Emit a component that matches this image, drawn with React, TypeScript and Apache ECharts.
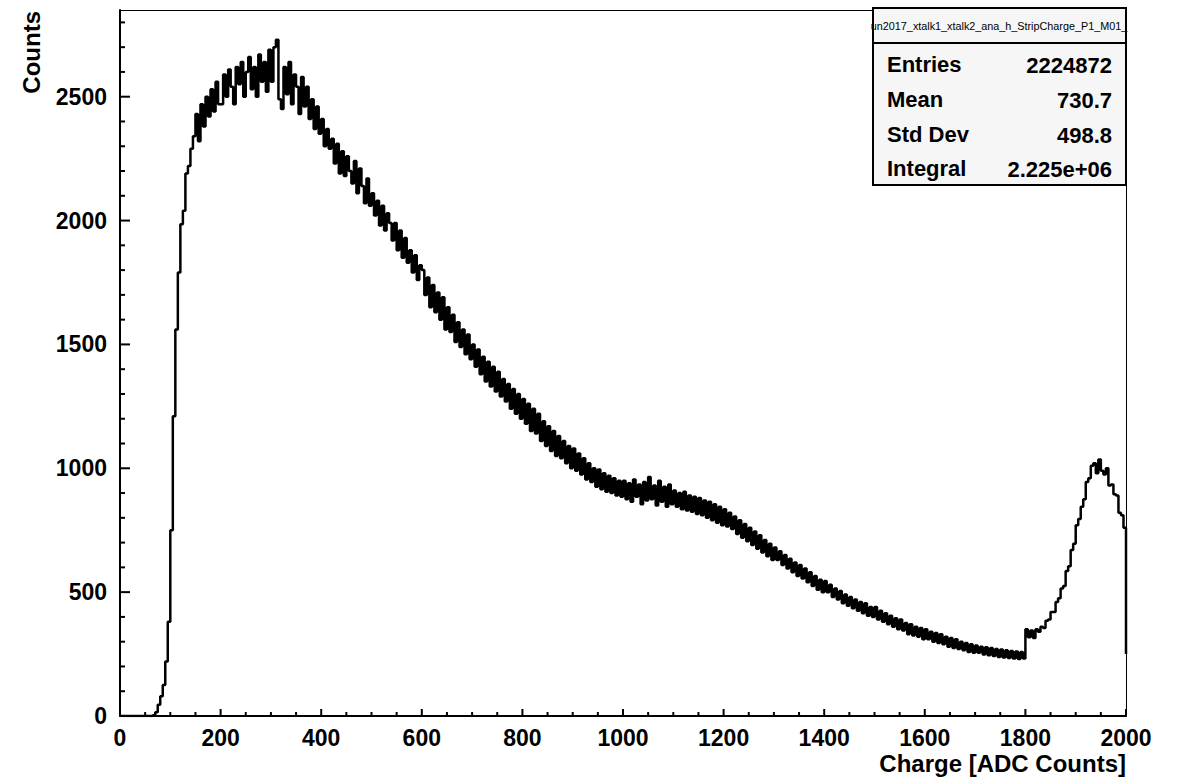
import React, { useEffect, useRef } from "react";
import * as echarts from "echarts";

// Histogram: bin width 5 ADC, bins from 0 to 2000 (400 bins), counts per bin
const binWidth = 5;
const xMin = 0;
const xMax = 2000;
const counts: number[] = [
  // 0-95
  0, 0, 0, 0, 0, 0, 0, 0, 0, 0, 0, 0, 0, 3, 15, 45, 80, 125, 220, 380,
  // 100-195
  750, 1210, 1560, 1790, 1985, 2040, 2190, 2220, 2290, 2340, 2430, 2320, 2470, 2380, 2500, 2420, 2530, 2440, 2560, 2470,
  // 200-295
  2470, 2590, 2500, 2610, 2540, 2470, 2620, 2550, 2640, 2500, 2600, 2660, 2530, 2620, 2500, 2670, 2560, 2640, 2520, 2690,
  // 300-395
  2560, 2700, 2730, 2490, 2450, 2620, 2510, 2640, 2470, 2590, 2540, 2430, 2580, 2460, 2540, 2410, 2490, 2370, 2460, 2350,
  // 400-495
  2410, 2300, 2370, 2290, 2330, 2230, 2310, 2190, 2280, 2180, 2260, 2200, 2150, 2240, 2110, 2210, 2140, 2070, 2170, 2060,
  // 500-595
  2110, 2020, 2080, 1980, 2060, 1960, 2030, 1990, 1920, 1990, 1880, 1960, 1850, 1930, 1830, 1880, 1790, 1860, 1760, 1820,
  // 600-695
  1800, 1700, 1770, 1650, 1740, 1630, 1710, 1600, 1690, 1560, 1650, 1550, 1620, 1510, 1590, 1490, 1560, 1460, 1540, 1440,
  // 700-795
  1500, 1410, 1480, 1380, 1450, 1350, 1430, 1330, 1410, 1310, 1390, 1290, 1360, 1270, 1340, 1240, 1320, 1220, 1300, 1200,
  // 800-895
  1280, 1180, 1260, 1150, 1240, 1140, 1220, 1110, 1190, 1090, 1170, 1070, 1150, 1050, 1130, 1040, 1110, 1020, 1090, 1000,
  // 900-995
  1080, 990, 1060, 975, 1040, 955, 1020, 945, 1000, 925, 995, 915, 980, 905, 970, 900, 960, 890, 950, 885,
  // 1000-1095
  950, 875, 940, 865, 955, 885, 935, 855, 945, 870, 965, 875, 930, 850, 950, 865, 925, 845, 935, 855,
  // 1100-1195
  910, 845, 900, 835, 905, 830, 890, 825, 885, 815, 880, 810, 870, 800, 865, 790, 855, 780, 845, 770,
  // 1200-1295
  835, 765, 820, 755, 805, 735, 790, 720, 775, 705, 760, 690, 745, 675, 730, 660, 710, 645, 695, 630,
  // 1300-1395
  680, 630, 665, 610, 650, 595, 635, 580, 620, 565, 610, 555, 595, 540, 580, 525, 565, 510, 550, 500,
  // 1400-1495
  545, 500, 530, 480, 515, 470, 505, 455, 490, 445, 480, 435, 470, 425, 460, 415, 455, 405, 440, 400,
  // 1500-1595
  440, 390, 425, 380, 415, 370, 405, 360, 395, 350, 390, 345, 375, 330, 370, 325, 360, 320, 355, 310,
  // 1600-1695
  350, 310, 340, 300, 335, 295, 330, 290, 320, 280, 315, 275, 310, 270, 300, 265, 295, 258, 290, 255,
  // 1700-1795
  285, 255, 280, 248, 278, 245, 275, 242, 270, 238, 268, 236, 265, 234, 262, 232, 260, 230, 258, 232,
  // 1800-1895
  350, 318, 345, 315, 350, 340, 360, 355, 385, 390, 420, 420, 460, 475, 515, 525, 585, 605, 670, 695,
  // 1900-1995
  770, 795, 845, 875, 945, 960, 1010, 1020, 980, 1035, 990, 975, 1000, 930, 935, 895, 890, 820, 810, 760,
];
const lastEdgeCount = 250;

// Axis ticks
const xMajorTicks = [0, 200, 400, 600, 800, 1000, 1200, 1400, 1600, 1800, 2000];
const xMinorPerMajor = 4;
const yMajorTicks = [0, 500, 1000, 1500, 2000, 2500];
const yMinorPerMajor = 5;
const yMax = 2850;

const statsTitle = "un2017_xtalk1_xtalk2_ana_h_StripCharge_P1_M01_";
const statsLabels = ["Entries", "Mean", "Std Dev", "Integral"];
const statsValues = ["2224872", "730.7", "498.8", "2.225e+06"];

const xAxisTitle = "Charge [ADC Counts]";
const yAxisTitle = "Counts";

const FONT = "Liberation Sans, Arial, Helvetica, sans-serif";

export default function App() {
  const ref = useRef<HTMLDivElement>(null);

  useEffect(() => {
    if (!ref.current) return;
    const chart = echarts.init(ref.current, undefined, { renderer: "svg" });

    const data: number[][] = counts.map((c, i) => [xMin + i * binWidth, c]);
    data.push([xMax, lastEdgeCount]);

    // tick data: [value, length in px]
    const xTickData: number[][] = [];
    const xStep = xMajorTicks[1] - xMajorTicks[0];
    xMajorTicks.forEach((t, i) => {
      xTickData.push([t, 7]);
      if (i < xMajorTicks.length - 1) {
        for (let k = 1; k < xMinorPerMajor; k++) xTickData.push([t + (k * xStep) / xMinorPerMajor, 4]);
      }
    });
    const yTickData: number[][] = [];
    const yStep = yMajorTicks[1] - yMajorTicks[0];
    yMajorTicks.forEach((t) => {
      yTickData.push([t, 10]);
      for (let k = 1; k < yMinorPerMajor; k++) {
        const v = t + (k * yStep) / yMinorPerMajor;
        if (v < yMax) yTickData.push([v, 5]);
      }
    });

    const rowY = [64, 99, 134, 168];
    const statsGraphics: any[] = [
      {
        type: "rect",
        z: 100,
        shape: { x: 873, y: 8, width: 253, height: 177 },
        style: { fill: "#f6f6f6", stroke: "#000", lineWidth: 2 },
      },
      {
        type: "line",
        z: 101,
        shape: { x1: 873, y1: 43, x2: 1126, y2: 43 },
        style: { stroke: "#000", lineWidth: 2 },
      },
      {
        type: "text",
        z: 101,
        x: 999,
        y: 26,
        style: {
          text: statsTitle,
          font: `10.8px ${FONT}`,
          fill: "#000",
          align: "center",
          verticalAlign: "middle",
        },
      },
    ];
    statsLabels.forEach((l, i) => {
      statsGraphics.push({
        type: "text",
        z: 101,
        x: 887,
        y: rowY[i],
        style: {
          text: l,
          font: `bold 22px ${FONT}`,
          fill: "#000",
          align: "left",
          verticalAlign: "middle",
        },
      });
      statsGraphics.push({
        type: "text",
        z: 101,
        x: 1112,
        y: rowY[i] + 1,
        style: {
          text: statsValues[i],
          font: `bold 22px ${FONT}`,
          fill: "#000",
          align: "right",
          verticalAlign: "middle",
        },
      });
    });

    const labelStyle = {
      color: "#000",
      fontFamily: FONT,
      fontWeight: "bold",
      fontSize: 23,
    };

    const option: any = {
      animation: false,
      grid: {
        left: 120,
        right: 52,
        top: 10,
        bottom: 62,
      },
      xAxis: [
        {
          type: "value",
          min: xMin,
          max: xMax,
          interval: 200,
          axisLine: { show: true, onZero: false, lineStyle: { color: "#000", width: 2 } },
          axisTick: { show: false },
          splitLine: { show: false },
          axisLabel: { ...labelStyle, margin: 10, formatter: (v: number) => String(v) },
        },
        {
          type: "value",
          position: "top",
          min: xMin,
          max: xMax,
          axisLine: { show: true, onZero: false, lineStyle: { color: "#000", width: 1 } },
          axisTick: { show: false },
          axisLabel: { show: false },
          splitLine: { show: false },
        },
      ],
      yAxis: [
        {
          type: "value",
          min: 0,
          max: yMax,
          interval: 500,
          axisLine: { show: true, onZero: false, lineStyle: { color: "#000", width: 2 } },
          axisTick: { show: false },
          splitLine: { show: false },
          axisLabel: {
            ...labelStyle,
            margin: 13,
            showMaxLabel: false,
            formatter: (v: number) => String(v),
          },
        },
        {
          type: "value",
          position: "right",
          min: 0,
          max: yMax,
          axisLine: { show: true, onZero: false, lineStyle: { color: "#000", width: 1 } },
          axisTick: { show: false },
          axisLabel: { show: false },
          splitLine: { show: false },
        },
      ],
      series: [
        {
          type: "line",
          step: "end",
          xAxisIndex: 0,
          yAxisIndex: 0,
          data,
          showSymbol: false,
          symbol: "none",
          silent: true,
          clip: true,
          lineStyle: { color: "#000", width: 2.5 },
          z: 10,
        },
        {
          type: "custom",
          xAxisIndex: 0,
          yAxisIndex: 0,
          silent: true,
          clip: false,
          z: 11,
          data: xTickData,
          renderItem: (_p: any, api: any) => {
            const pt = api.coord([api.value(0), 0]);
            const len = api.value(1);
            return {
              type: "line",
              shape: { x1: pt[0], y1: pt[1], x2: pt[0], y2: pt[1] - len },
              style: { stroke: "#000", lineWidth: 2 },
            };
          },
        },
        {
          type: "custom",
          xAxisIndex: 0,
          yAxisIndex: 0,
          silent: true,
          clip: false,
          z: 11,
          data: yTickData,
          renderItem: (_p: any, api: any) => {
            const pt = api.coord([0, api.value(0)]);
            const len = api.value(1);
            return {
              type: "line",
              shape: { x1: pt[0], y1: pt[1], x2: pt[0] + len, y2: pt[1] },
              style: { stroke: "#000", lineWidth: 2 },
            };
          },
        },
      ],
      graphic: [
        {
          type: "text",
          x: 1126,
          y: 763,
          style: {
            text: xAxisTitle,
            font: `bold 24px ${FONT}`,
            fill: "#000",
            align: "right",
            verticalAlign: "middle",
          },
        },
        {
          type: "text",
          x: 31,
          y: 11,
          rotation: Math.PI / 2,
          style: {
            text: yAxisTitle,
            font: `bold 24px ${FONT}`,
            fill: "#000",
            align: "right",
            verticalAlign: "middle",
          },
        },
        ...statsGraphics,
      ],
    };

    chart.setOption(option);
    return () => chart.dispose();
  }, []);

  return (
    <div
      ref={ref}
      style={{ position: "fixed", left: 0, top: 0, width: 1178, height: 778, background: "#fff" }}
    />
  );
}
